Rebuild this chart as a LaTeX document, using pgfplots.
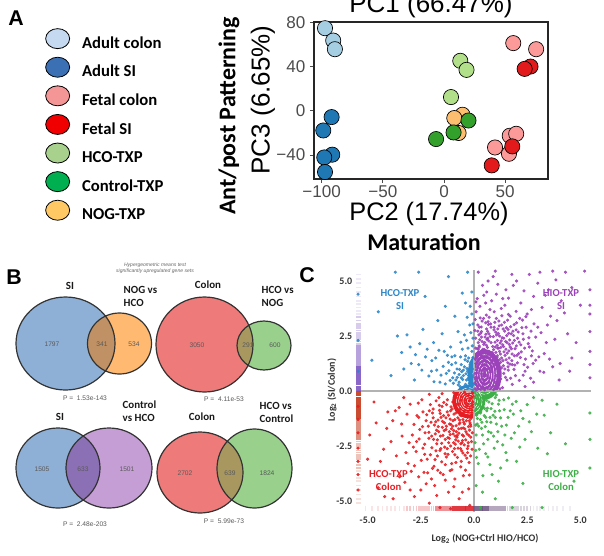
\documentclass[border=0pt]{standalone}
\usepackage{pgfplots}
\pgfplotsset{compat=1.18}
\usepackage{fontspec}
\setmainfont{Liberation Sans}
\newfontfamily\calib{Carlito}
\newfontfamily\ars{Liberation Sans}
% panel A scatter colours
\definecolor{acolon}{RGB}{166,206,227}
\definecolor{asi}{RGB}{31,120,180}
\definecolor{fcolon}{RGB}{251,154,153}
\definecolor{fsi}{RGB}{227,26,28}
\definecolor{hco}{RGB}{178,223,138}
\definecolor{ctrl}{RGB}{51,160,44}
\definecolor{nog}{RGB}{253,191,111}
% legend colours
\definecolor{lacolon}{RGB}{197,217,241}
\definecolor{lasi}{RGB}{60,112,180}
\definecolor{lfcolon}{RGB}{245,150,150}
\definecolor{lfsi}{RGB}{240,0,0}
\definecolor{lhco}{RGB}{169,209,142}
\definecolor{lctrl}{RGB}{0,176,80}
\definecolor{lnog}{RGB}{255,200,100}
% venn colours
\definecolor{vblue}{RGB}{143,176,214}
\definecolor{vorange}{RGB}{255,185,112}
\definecolor{vbo}{RGB}{192,145,100}
\definecolor{vred}{RGB}{238,122,122}
\definecolor{vgreen}{RGB}{152,208,140}
\definecolor{vrg}{RGB}{168,152,96}
\definecolor{vpurple}{RGB}{198,158,214}
\definecolor{vbp}{RGB}{140,112,182}
% panel C colours
\definecolor{cblue}{RGB}{45,135,200}
\definecolor{cpurple}{RGB}{155,65,185}
\definecolor{cred}{RGB}{230,30,35}
\definecolor{cgreen}{RGB}{60,175,70}
\definecolor{rugp}{RGB}{125,85,195}
\definecolor{rugr}{RGB}{195,55,25}
\definecolor{rugbr}{RGB}{220,35,45}
\definecolor{rugbp}{RGB}{105,80,125}
\pgfplotsset{
  legimg/.style={legend image code/.code={\draw[black, line width=0.6pt, fill=#1] (9pt,4pt) ellipse [x radius=9pt, y radius=7.5pt];}},
  ptA/.style={only marks, mark=*, mark size=5.7pt, mark options={draw=black, line width=0.5pt, fill=#1}},
  ptC/.style={only marks, mark=*, mark size=1.0pt, mark options={draw=#1, fill=#1, draw opacity=0.85, fill opacity=0.85}},
  rugL/.style 2 args={only marks, mark=-, mark size=2pt, mark options={line width=1.3pt, draw=#1, draw opacity=#2}},
  rugB/.style 2 args={only marks, mark=|, mark size=2pt, mark options={line width=1.3pt, draw=#1, draw opacity=#2}},
}
\begin{document}
\begin{tikzpicture}[x=0.75pt,y=-0.75pt]
\useasboundingbox (0,0) rectangle (604,556);
\clip (0,0) rectangle (604,556);

% ================= Panel A =================
\begin{axis}[at={(235.5pt,-16.5pt)}, anchor=north west, scale only axis, width=175.5pt, height=117.75pt,
  xmin=-106.3, xmax=85, ymin=-61.7, ymax=80.3,
  xtick={-100,-50,0,50}, xticklabels={−100,−50,0,50},
  ytick={-40,0,40,80}, yticklabels={−40,0,40,80},
  tick pos=left, tick align=outside, major tick length=3pt,
  axis line style={draw=black!85, line width=0.9pt},
  every tick/.style={black!70, line width=0.6pt},
  ticklabel style={font=\ars\fontsize{12.8}{12.8}\selectfont, text=black!70},
  xticklabel style={inner sep=0pt, text depth=0pt, yshift=-2pt},
  clip=false,
  legend style={at={(axis description cs:-1.1496,0.962)}, anchor=north west, draw=none, fill=none,
    font=\calib\bfseries\fontsize{12.5}{12.5}\selectfont, inner sep=0pt, row sep=3.9pt,
    nodes={inner sep=0pt, text height=9pt, text depth=2.5pt},
    /tikz/every odd column/.append style={column sep=9pt}},
  legend cell align=left]
\addplot[ptA=acolon, legimg=lacolon] coordinates {(-97.3,74.7) (-90.6,63.5) (-89.2,55.7)};
\addlegendentry{Adult colon}
\addplot[ptA=asi, legimg=lasi] coordinates {(-91.9,-5.7) (-98.7,-17.8) (-91.4,-39.7) (-97.9,-42.2) (-97.3,-55.4)};
\addlegendentry{Adult SI}
\addplot[ptA=fcolon, legimg=lfcolon] coordinates {(56.6,61.2) (75.3,55.7) (53.7,-22.6) (59.0,-20.8) (41.7,-33.2) (53.1,-38.9)};
\addlegendentry{Fetal colon}
\addplot[ptA=fsi, legimg=lfsi] coordinates {(70.7,40.0) (65.9,37.9) (55.8,-32.2) (39.0,-49.4)};
\addlegendentry{Fetal SI}
\addplot[ptA=hco, legimg=lhco] coordinates {(13.3,45.2) (18.4,37.0) (5.7,12.4)};
\addlegendentry{HCO-TXP}
\addplot[ptA=nog, forget plot] coordinates {(15.1,-3.6) (8.4,-6.6) (11.9,-20.1)};
\addplot[ptA=ctrl, legimg=lctrl] coordinates {(20.0,-8.8) (7.8,-19.6) (-6.5,-25.6)};
\addlegendentry{Control-TXP}
\addlegendimage{legimg=lnog}
\addlegendentry{NOG-TXP}
\end{axis}

% ================= Panel C =================
\begin{axis}[at={(267.75pt,-202.5pt)}, anchor=north west, scale only axis, width=175.5pt, height=181.5pt,
  xmin=-5.5, xmax=5.5, ymin=-5.5, ymax=5.5,
  axis line style={draw=none}, major tick length=0pt,
  xtick={-5,-2.5,0,2.5,5}, xticklabels={-5.0,-2.5,0.0,2.5,5.0},
  ytick={-5,-2.5,0,2.5,5}, yticklabels={-5.0,-2.5,0.0,2.5,5.0},
  ticklabel style={font=\calib\bfseries\fontsize{7.5}{7.5}\selectfont, text=black!80}]
% rugs left
\addplot[rugL={rugp}{0.9}] coordinates {(-5.43,0.05) (-5.43,0.13) (-5.43,0.21) (-5.43,0.29) (-5.43,0.37) (-5.43,0.45) (-5.43,0.53) (-5.43,0.61) (-5.43,0.69) (-5.43,0.77) (-5.43,0.85) (-5.43,0.93) (-5.43,1.01) (-5.43,1.09)};
\addplot[rugL={rugp}{0.55}] coordinates {(-5.43,1.17) (-5.43,1.25) (-5.43,1.33) (-5.43,1.41) (-5.43,1.49) (-5.43,1.57) (-5.43,1.65) (-5.43,1.73) (-5.43,1.81) (-5.43,1.89) (-5.43,1.97) (-5.43,2.05)};
\addplot[rugL={rugp}{0.3}] coordinates {(-5.43,2.15) (-5.43,2.25) (-5.43,2.35) (-5.43,2.45) (-5.43,2.55) (-5.43,2.65) (-5.43,2.75) (-5.43,2.85) (-5.43,2.95) (-5.43,3.05) (-5.43,3.2) (-5.43,3.35)};
\addplot[rugL={rugp}{0.13}] coordinates {(-5.43,3.5) (-5.43,3.65) (-5.43,3.8) (-5.43,3.95) (-5.43,4.1) (-5.43,4.3) (-5.43,4.5) (-5.43,4.7) (-5.43,4.9) (-5.43,5.1) (-5.43,5.3)};
\addplot[rugL={rugr}{0.9}] coordinates {(-5.43,-0.05) (-5.43,-0.13) (-5.43,-0.21) (-5.43,-0.29) (-5.43,-0.37) (-5.43,-0.45) (-5.43,-0.53) (-5.43,-0.61) (-5.43,-0.69) (-5.43,-0.77) (-5.43,-0.85) (-5.43,-0.93) (-5.43,-1.01) (-5.43,-1.09) (-5.43,-1.17) (-5.43,-1.25)};
\addplot[rugL={rugr}{0.55}] coordinates {(-5.43,-1.33) (-5.43,-1.41) (-5.43,-1.49) (-5.43,-1.57) (-5.43,-1.65) (-5.43,-1.73) (-5.43,-1.81) (-5.43,-1.89) (-5.43,-1.97) (-5.43,-2.05) (-5.43,-2.13) (-5.43,-2.21)};
\addplot[rugL={rugr}{0.3}] coordinates {(-5.43,-2.3) (-5.43,-2.4) (-5.43,-2.5) (-5.43,-2.6) (-5.43,-2.7) (-5.43,-2.8) (-5.43,-2.9) (-5.43,-3.0) (-5.43,-3.1) (-5.43,-3.2) (-5.43,-3.35) (-5.43,-3.5)};
\addplot[rugL={rugr}{0.15}] coordinates {(-5.43,-3.65) (-5.43,-3.8) (-5.43,-3.95) (-5.43,-4.1) (-5.43,-4.3) (-5.43,-4.5) (-5.43,-4.7) (-5.43,-4.9) (-5.43,-5.1)};
% rugs bottom
\addplot[rugB={rugbr}{0.9}] coordinates {(-0.04,-5.33) (-0.12,-5.33) (-0.2,-5.33) (-0.28,-5.33) (-0.36,-5.33) (-0.44,-5.33) (-0.52,-5.33) (-0.6,-5.33) (-0.68,-5.33) (-0.76,-5.33) (-0.84,-5.33) (-0.92,-5.33) (-1.0,-5.33)};
\addplot[rugB={rugbr}{0.5}] coordinates {(-1.08,-5.33) (-1.16,-5.33) (-1.24,-5.33) (-1.32,-5.33) (-1.4,-5.33) (-1.48,-5.33) (-1.56,-5.33) (-1.64,-5.33) (-1.72,-5.33) (-1.8,-5.33)};
\addplot[rugB={rugbr}{0.25}] coordinates {(-1.9,-5.33) (-2.0,-5.33) (-2.1,-5.33) (-2.2,-5.33) (-2.3,-5.33) (-2.4,-5.33) (-2.5,-5.33) (-2.6,-5.33) (-2.7,-5.33) (-2.85,-5.33) (-3.0,-5.33) (-3.15,-5.33)};
\addplot[rugB={rugbr}{0.12}] coordinates {(-3.3,-5.33) (-3.5,-5.33) (-3.7,-5.33) (-3.9,-5.33) (-4.1,-5.33) (-4.3,-5.33) (-4.5,-5.33) (-4.8,-5.33) (-5.1,-5.33)};
\addplot[rugB={rugbp}{0.85}] coordinates {(0.04,-5.33) (0.12,-5.33) (0.2,-5.33) (0.28,-5.33) (0.36,-5.33) (0.44,-5.33) (0.52,-5.33) (0.6,-5.33) (0.68,-5.33)};
\addplot[rugB={rugbp}{0.5}] coordinates {(0.76,-5.33) (0.84,-5.33) (0.92,-5.33) (1.0,-5.33) (1.08,-5.33) (1.16,-5.33) (1.24,-5.33) (1.32,-5.33) (1.4,-5.33) (1.48,-5.33)};
\addplot[rugB={rugbp}{0.25}] coordinates {(1.58,-5.33) (1.68,-5.33) (1.78,-5.33) (1.88,-5.33) (1.98,-5.33) (2.08,-5.33) (2.2,-5.33) (2.35,-5.33) (2.5,-5.33) (2.65,-5.33)};
\addplot[rugB={rugbp}{0.1}] coordinates {(2.8,-5.33) (2.95,-5.33) (3.1,-5.33) (3.3,-5.33) (3.5,-5.33) (3.7,-5.33) (3.9,-5.33) (4.2,-5.33) (4.5,-5.33)};
% dense cores
\begin{scope}
\clip (axis cs:0,0) rectangle (axis cs:5.5,5.5);
\fill[cpurple] (axis cs:0.5,0.75) ellipse [x radius=0.8, y radius=1.15];
\fill[cpurple] (axis cs:-0.22,-0.45) ellipse [x radius=0.75, y radius=0.75];
\end{scope}
\begin{scope}
\clip (axis cs:-5.5,0) rectangle (axis cs:0,5.5);
\fill[cblue] (axis cs:0.5,0.75) ellipse [x radius=0.8, y radius=1.15];
\fill[cblue] (axis cs:-0.22,-0.45) ellipse [x radius=0.75, y radius=0.75];
\end{scope}
\begin{scope}
\clip (axis cs:-5.5,-5.5) rectangle (axis cs:0,0);
\fill[cred] (axis cs:0.5,0.75) ellipse [x radius=0.8, y radius=1.15];
\fill[cred] (axis cs:-0.22,-0.45) ellipse [x radius=0.8, y radius=0.8];
\end{scope}
\begin{scope}
\clip (axis cs:0,-5.5) rectangle (axis cs:5.5,0);
\fill[cgreen] (axis cs:0.5,0.75) ellipse [x radius=0.8, y radius=1.15];
\fill[cgreen] (axis cs:-0.22,-0.45) ellipse [x radius=0.75, y radius=0.75];
\end{scope}
% points
\addplot[ptC=cpurple] coordinates {(0.1,0.3) (0.2,0.6) (0.15,1.1) (0.3,1.5) (0.25,2.0) (0.4,0.2) (0.5,0.9) (0.6,1.3) (0.7,1.8) (0.8,2.2) (0.9,0.5) (1.0,1.0) (1.1,1.6) (1.2,2.5) (1.3,3.0) (1.4,0.8) (1.5,1.9) (1.6,2.8) (1.7,3.4) (1.8,1.2) (1.9,2.3) (2.0,3.1) (2.1,1.7) (2.2,4.0) (2.3,2.6) (2.4,0.9) (2.5,3.5) (2.6,2.0) (2.8,4.3) (2.9,1.4) (3.0,2.9) (3.2,3.8) (3.4,2.2) (3.5,4.6) (3.7,1.1) (3.9,3.2) (4.1,4.1) (4.4,2.6) (0.05,0.8) (0.12,1.7) (0.08,2.4) (0.18,3.0) (0.1,3.6) (0.35,2.7) (0.45,3.3) (0.55,4.0) (0.65,2.4) (0.75,3.7) (0.85,1.1) (0.95,2.9) (1.05,4.4) (1.15,0.3) (1.25,1.3) (1.35,2.1) (1.45,3.9) (1.55,0.5) (1.65,1.5) (1.75,2.6) (1.85,4.8) (1.95,0.7) (2.05,2.4) (2.15,3.3) (2.35,1.2) (2.45,2.9) (2.7,1.6) (0.3,0.5) (0.6,0.7) (0.4,1.2) (0.9,1.4) (0.7,0.4) (1.0,2.0) (0.2,1.9) (0.5,2.2) (0.8,2.9) (1.2,1.8) (1.1,2.3) (1.3,1.5) (1.4,2.4) (0.35,1.6) (0.65,1.0) (0.45,0.4) (0.75,1.5) (1.6,1.1) (1.7,2.0) (1.9,1.6) (2.2,2.1) (0.25,2.9) (0.55,3.1) (1.05,3.3) (0.15,4.2) (0.4,4.8) (0.9,5.2) (1.5,4.6) (2.0,5.0) (2.6,5.3) (0.2,5.4) (3.1,5.4) (4.3,5.4) (5.45,1.8) (5.45,3.5) (5.45,0.6) (5.45,4.6) (3.3,1.7) (3.6,3.4) (4.0,0.5) (2.8,0.4) (3.1,0.9) (4.6,1.5) (1.8,0.3) (2.4,0.2) (0.95,3.6) (1.35,4.2) (0.6,4.5) (3.0,4.9) (0.05,0.1) (0.1,0.45) (0.22,0.25) (0.3,0.95) (0.15,1.35) (0.42,1.9) (0.62,1.6) (0.85,1.75) (1.05,0.7) (1.15,1.25) (0.95,0.2) (1.25,0.55) (0.5,0.05) (0.7,2.6) (0.35,2.45) (1.45,1.0) (1.55,2.2) (0.2,2.2)};
\addplot[ptC=cpurple] coordinates {(0.03,0.35) (0.07,0.62) (0.11,0.95) (0.14,1.22) (0.17,1.48) (0.21,1.77) (0.24,2.05) (0.27,2.33) (0.31,2.62) (0.34,2.91) (0.38,3.18) (0.41,0.12) (0.44,0.68) (0.48,1.05) (0.51,1.42) (0.54,1.73) (0.58,2.08) (0.61,2.35) (0.64,2.71) (0.68,3.02) (0.71,3.35) (0.74,0.22) (0.78,0.85) (0.81,1.28) (0.84,1.62) (0.88,2.02) (0.91,2.47) (0.94,2.78) (0.98,3.12) (1.01,0.38) (1.04,1.18) (1.08,1.52) (1.11,1.95) (1.14,2.62) (1.18,2.96) (1.21,0.88) (1.24,1.68) (1.28,2.28) (1.31,3.42) (1.34,0.15) (1.38,1.15) (1.41,1.78) (1.44,2.72) (1.48,0.62) (1.51,1.42) (1.54,2.52) (1.58,3.22) (1.61,0.95) (1.64,1.82) (1.68,2.32) (1.72,0.58) (1.78,1.38) (1.83,2.72) (1.88,0.98) (1.93,1.92) (1.98,3.62) (2.04,1.28) (2.08,2.68) (2.13,0.48) (2.18,1.52) (2.25,2.88) (2.31,0.72) (2.38,1.95) (2.44,3.38) (2.52,1.08) (2.58,2.42) (2.66,0.58) (2.74,1.82) (2.82,3.05) (2.9,2.45) (3.05,1.55) (3.15,2.65) (3.28,0.85) (3.45,3.0) (3.55,1.45) (3.8,2.35) (4.05,1.25) (4.25,3.55) (4.5,0.9) (4.8,2.2) (5.0,3.9) (0.12,0.05) (0.32,0.08) (0.62,0.12) (0.92,0.06) (1.22,0.1) (0.05,1.45) (0.08,1.95) (0.04,2.75) (0.06,3.25) (0.09,4.05) (0.28,3.85) (0.46,4.35) (0.66,5.0) (0.83,4.1) (1.12,4.85) (1.28,3.75) (1.62,4.22) (1.78,5.3) (2.35,4.55) (2.7,3.7) (3.35,4.35) (3.85,5.05) (4.6,4.7) (5.2,5.45) (3.7,5.45) (1.0,5.45) (5.45,2.7) (5.45,1.2) (5.45,3.9)};
\addplot[ptC=cpurple] coordinates {(0.06,0.55) (0.13,0.82) (0.19,1.05) (0.26,1.28) (0.33,1.62) (0.39,1.85) (0.46,2.12) (0.52,2.45) (0.59,2.82) (0.66,3.15) (0.72,0.58) (0.79,1.05) (0.86,1.38) (0.92,1.88) (0.99,2.22) (1.06,2.55) (1.12,2.82) (1.19,1.42) (1.26,1.98) (1.32,2.42) (1.39,2.02) (1.46,1.62) (1.52,2.88) (1.59,1.28) (1.66,2.12) (1.72,2.92) (1.79,1.68) (1.86,2.52) (1.92,1.18) (1.99,2.05) (0.09,1.25) (0.16,1.92) (0.23,2.55) (0.29,3.32) (0.36,0.78) (0.43,1.48) (0.49,1.88) (0.56,2.58) (0.63,1.98) (0.69,2.28) (0.76,2.48) (0.83,0.95) (0.89,1.62) (0.96,1.22) (1.03,1.75) (1.09,2.08) (1.16,1.95) (1.23,2.18) (1.29,1.05) (1.36,1.38) (1.43,3.12) (1.49,2.25) (1.56,1.72) (1.63,2.62) (1.69,1.22) (1.76,1.92) (1.82,2.18) (1.89,3.02) (2.02,1.62) (2.12,2.22) (2.22,1.78) (2.32,2.35) (2.42,1.45) (2.55,2.15) (2.68,2.72) (2.78,1.25) (0.18,2.72) (0.38,2.25) (0.58,3.45) (0.78,3.05) (1.02,2.68) (1.17,3.18) (1.37,2.82) (1.62,3.48) (1.98,2.78) (2.28,3.22)};
\addplot[ptC=cred] coordinates {(-0.1,-0.3) (-0.2,-0.8) (-0.3,-1.2) (-0.15,-1.6) (-0.4,-0.4) (-0.5,-1.0) (-0.6,-1.7) (-0.7,-0.6) (-0.8,-2.1) (-0.9,-1.3) (-1.0,-0.5) (-1.1,-2.5) (-1.2,-1.1) (-1.3,-3.0) (-1.4,-1.8) (-1.5,-0.7) (-1.6,-2.7) (-1.7,-3.6) (-1.8,-1.4) (-1.9,-2.2) (-2.0,-4.0) (-2.1,-0.9) (-2.2,-3.1) (-2.3,-1.9) (-2.4,-2.6) (-2.5,-4.5) (-2.6,-1.2) (-2.8,-3.4) (-2.9,-2.0) (-3.0,-0.6) (-3.2,-2.8) (-3.4,-1.5) (-3.5,-3.9) (-3.7,-0.9) (-3.9,-2.3) (-4.1,-1.7) (-4.4,-3.2) (-4.7,-0.5) (-0.05,-0.5) (-0.1,-1.0) (-0.08,-1.9) (-0.12,-2.3) (-0.25,-0.2) (-0.35,-0.7) (-0.45,-1.5) (-0.55,-2.0) (-0.65,-1.1) (-0.75,-2.6) (-0.85,-0.3) (-0.95,-1.8) (-1.05,-3.3) (-1.15,-1.5) (-1.25,-0.4) (-1.35,-2.2) (-1.45,-3.8) (-1.55,-1.2) (-1.65,-0.3) (-1.75,-2.4) (-1.85,-4.3) (-1.95,-1.0) (-2.05,-2.9) (-2.15,-1.6) (-2.35,-3.7) (-2.45,-0.4) (-2.7,-2.3) (-3.1,-3.3) (-3.3,-0.3) (-0.3,-2.8) (-0.6,-3.2) (-0.9,-4.0) (-0.4,-3.6) (-1.2,-4.6) (-0.7,-4.9) (-0.2,-5.2) (-1.6,-5.3) (-2.8,-4.8) (-5.45,-1.3) (-5.45,-2.6) (-5.45,-0.7) (-5.45,-3.8) (-4.9,-2.0) (-4.5,-4.4) (-3.8,-4.9) (-0.05,-0.1) (-0.18,-0.35) (-0.3,-0.6) (-0.45,-0.9) (-0.6,-0.25) (-0.22,-1.35) (-0.38,-1.85) (-0.52,-1.3) (-0.7,-1.5) (-0.85,-1.0) (-1.0,-1.6) (-0.15,-2.1) (-0.62,-2.4) (-1.1,-0.9) (-1.3,-1.6) (-0.9,-2.9) (-0.28,-2.5) (-0.78,-0.15)};
\addplot[ptC=cred] coordinates {(-0.03,-0.25) (-0.07,-0.62) (-0.1,-0.88) (-0.14,-1.25) (-0.17,-1.52) (-0.21,-1.78) (-0.24,-2.02) (-0.27,-2.35) (-0.31,-2.62) (-0.34,-3.05) (-0.38,-0.15) (-0.41,-0.55) (-0.44,-1.12) (-0.48,-1.42) (-0.51,-1.68) (-0.54,-2.25) (-0.58,-2.72) (-0.61,-0.42) (-0.64,-0.82) (-0.68,-1.32) (-0.71,-1.92) (-0.74,-2.28) (-0.78,-3.02) (-0.81,-0.62) (-0.84,-1.58) (-0.88,-2.42) (-0.91,-0.22) (-0.94,-1.05) (-0.98,-1.95) (-1.01,-2.75) (-1.04,-3.58) (-1.08,-0.72) (-1.12,-1.28) (-1.16,-2.15) (-1.22,-2.88) (-1.26,-0.95) (-1.32,-1.75) (-1.38,-2.55) (-1.42,-0.52) (-1.48,-1.38) (-1.52,-3.22) (-1.58,-2.05) (-1.62,-0.88) (-1.68,-1.62) (-1.72,-2.95) (-1.78,-0.45) (-1.82,-1.95) (-1.88,-3.42) (-1.92,-1.22) (-1.98,-2.58) (-2.05,-0.62) (-2.12,-1.88) (-2.18,-3.72) (-2.25,-1.35) (-2.32,-2.42) (-2.4,-0.95) (-2.48,-3.15) (-2.55,-1.75) (-2.62,-0.55) (-2.72,-2.75) (-2.82,-1.52) (-2.95,-3.65) (-3.05,-2.35) (-3.15,-1.05) (-3.25,-4.15) (-3.38,-2.05) (-3.52,-0.75) (-3.65,-2.95) (-3.82,-1.35) (-4.05,-0.95) (-4.25,-2.65) (-4.6,-1.45) (-5.0,-3.1) (-0.5,-3.85) (-0.95,-4.35) (-1.35,-4.05) (-0.25,-4.45) (-1.75,-4.75) (-0.55,-4.6) (-2.1,-5.1) (-1.1,-5.35) (-2.6,-3.9) (-3.0,-4.5) (-4.2,-4.8) (-5.45,-1.9) (-5.45,-3.2) (-5.45,-4.5) (-0.08,-0.05) (-0.45,-0.05) (-0.95,-0.08) (-1.5,-0.12) (-2.1,-0.15)};
\addplot[ptC=cred] coordinates {(-0.06,-0.72) (-0.13,-1.12) (-0.19,-1.45) (-0.26,-1.62) (-0.33,-1.95) (-0.39,-2.22) (-0.46,-2.45) (-0.52,-2.82) (-0.59,-1.12) (-0.66,-1.45) (-0.72,-1.72) (-0.79,-2.02) (-0.86,-2.22) (-0.92,-2.62) (-0.99,-1.35) (-1.06,-1.72) (-1.12,-1.98) (-1.19,-2.35) (-1.26,-2.62) (-1.32,-1.22) (-1.39,-1.45) (-1.46,-2.02) (-1.52,-2.38) (-1.59,-1.02) (-1.66,-1.85) (-1.72,-2.22) (-1.79,-2.72) (-1.86,-1.55) (-1.92,-0.82) (-1.99,-2.05) (-0.09,-2.65) (-0.16,-2.95) (-0.23,-3.25) (-0.29,-0.95) (-0.36,-1.35) (-0.43,-1.72) (-0.49,-2.05) (-0.56,-2.35) (-0.63,-2.62) (-0.69,-0.92) (-0.76,-1.22) (-0.83,-1.85) (-0.89,-2.05) (-0.96,-2.35) (-1.03,-0.82) (-1.09,-1.52) (-1.16,-1.85) (-1.23,-2.12) (-1.29,-0.62) (-1.36,-2.85) (-1.43,-1.12) (-1.49,-1.65) (-1.56,-2.62) (-1.63,-0.65) (-1.69,-1.32) (-1.76,-1.78) (-1.83,-3.12) (-2.02,-1.42) (-2.12,-2.15) (-2.22,-1.08) (-2.32,-2.88) (-2.42,-1.62) (-2.58,-2.18) (-2.68,-1.12) (-2.85,-2.55) (-0.42,-2.92) (-0.62,-3.45) (-0.85,-3.25) (-1.12,-3.62) (-1.35,-3.35) (-1.58,-3.72) (-0.22,-3.82) (-1.95,-3.52) (-2.25,-4.22)};
\addplot[ptC=cblue] coordinates {(-0.1,0.2) (-0.2,0.5) (-0.3,0.9) (-0.15,1.3) (-0.4,0.3) (-0.5,0.7) (-0.6,1.2) (-0.7,0.4) (-0.8,1.0) (-0.9,1.6) (-1.0,0.6) (-1.1,2.0) (-1.2,1.3) (-1.3,0.8) (-1.4,1.8) (-1.5,2.6) (-1.6,0.4) (-1.8,1.5) (-1.9,2.2) (-2.0,0.9) (-2.2,1.9) (-2.4,2.8) (-2.6,1.2) (-2.8,0.5) (-3.0,2.0) (-3.3,1.0) (-3.6,2.5) (-3.9,0.7) (-0.05,0.7) (-0.1,1.8) (-0.05,2.4) (-0.2,3.0) (-0.1,3.5) (-0.35,2.3) (-0.55,1.9) (-0.25,1.5) (-0.45,1.1) (-0.65,0.2) (-0.75,2.7) (-0.85,0.5) (-1.05,1.2) (-0.3,0.15) (-0.6,0.6) (-0.2,0.9) (-0.4,1.6) (-1.7,3.2) (-0.9,3.4) (-0.4,4.0) (-0.1,4.5) (-2.3,4.3) (-1.2,5.2) (-3.7,5.4) (-4.5,3.6) (-4.8,1.4) (-5.45,2.3) (-5.45,0.9) (-5.45,4.4) (-0.3,5.4) (-2.6,5.4) (-0.05,0.05) (-0.12,0.4) (-0.25,0.7) (-0.08,1.0) (-0.35,0.5) (-0.18,1.2) (-0.5,0.95) (-0.7,0.75) (-0.3,1.35)};
\addplot[ptC=cblue] coordinates {(-0.03,0.3) (-0.08,0.62) (-0.12,0.88) (-0.16,1.12) (-0.22,0.35) (-0.27,0.58) (-0.33,1.02) (-0.38,0.78) (-0.42,1.42) (-0.47,0.18) (-0.53,0.52) (-0.58,0.88) (-0.63,1.55) (-0.68,0.98) (-0.74,0.28) (-0.79,0.62) (-0.86,1.28) (-0.92,0.82) (-0.97,0.35) (-1.04,1.55) (-1.12,0.48) (-1.18,0.92) (-1.25,1.62) (-1.35,0.32) (-1.45,1.12) (-1.55,0.72) (-1.65,1.85) (-1.75,0.95) (-1.88,0.42) (-1.98,1.38) (-2.12,0.68) (-2.28,1.55) (-2.45,0.95) (-2.55,2.15) (-2.75,1.65) (-2.95,1.25) (-3.15,2.55) (-3.4,1.75) (-0.05,1.52) (-0.08,2.05) (-0.15,2.65) (-0.28,1.95) (-0.45,2.55) (-0.62,2.22) (-0.32,3.35) (-0.05,3.05) (-0.18,3.85) (-0.55,4.45) (-1.35,3.85)};
\addplot[ptC=cgreen] coordinates {(0.1,-0.2) (0.2,-0.6) (0.3,-1.0) (0.15,-1.5) (0.4,-0.3) (0.5,-0.8) (0.6,-1.4) (0.7,-0.5) (0.8,-1.9) (0.9,-1.1) (1.0,-0.3) (1.1,-2.3) (1.2,-0.9) (1.3,-1.6) (1.4,-0.4) (1.5,-2.8) (1.6,-1.2) (1.8,-0.6) (1.9,-1.9) (2.0,-3.2) (2.2,-0.9) (2.4,-2.2) (2.6,-1.4) (2.8,-0.3) (3.0,-2.6) (3.3,-1.1) (3.6,-1.9) (3.9,-0.6) (4.3,-2.4) (0.05,-0.9) (0.1,-2.0) (0.08,-2.7) (0.2,-3.3) (0.35,-1.7) (0.45,-2.4) (0.55,-0.2) (0.65,-3.0) (0.75,-1.2) (0.85,-3.8) (0.95,-2.6) (1.05,-1.5) (1.15,-0.6) (1.25,-3.5) (1.45,-2.0) (1.7,-0.9) (2.1,-1.6) (2.3,-4.2) (0.4,-4.6) (1.0,-4.9) (0.3,-5.3) (1.8,-5.3) (3.2,-5.3) (5.45,-1.0) (5.45,-2.2) (5.45,-3.5) (4.7,-4.1) (0.25,-0.4) (0.6,-0.9) (0.3,-1.3) (0.05,-0.05) (0.15,-0.35) (0.3,-0.7) (0.12,-1.1) (0.45,-0.5) (0.22,-1.6) (0.55,-1.2) (0.8,-0.8) (0.4,-2.0) (0.65,-2.2) (1.0,-1.2)};
\addplot[ptC=cgreen] coordinates {(0.03,-0.32) (0.07,-0.58) (0.11,-0.82) (0.16,-1.25) (0.21,-0.18) (0.26,-0.52) (0.32,-0.95) (0.37,-1.42) (0.42,-0.72) (0.48,-1.12) (0.53,-1.62) (0.58,-0.42) (0.63,-0.78) (0.68,-1.85) (0.74,-0.25) (0.79,-1.42) (0.85,-0.58) (0.92,-2.05) (0.98,-0.92) (1.05,-0.18) (1.12,-1.85) (1.18,-0.42) (1.25,-1.22) (1.35,-2.45) (1.42,-0.85) (1.52,-1.55) (1.62,-0.32) (1.75,-2.15) (1.85,-1.05) (1.98,-0.48) (2.15,-2.55) (2.3,-1.25) (2.5,-0.62) (2.7,-1.85) (2.95,-1.05) (3.2,-0.42) (3.45,-2.85) (0.08,-1.55) (0.05,-2.35) (0.12,-3.02) (0.25,-2.65) (0.55,-2.85) (0.75,-3.35) (0.42,-3.85) (1.55,-3.15) (1.15,-4.1) (0.1,-4.3)};
% white density contours
\draw[white, line width=0.4pt] (axis cs:0.5,0.75) ellipse [x radius=0.11, y radius=0.18]
  (axis cs:0.5,0.75) ellipse [x radius=0.22, y radius=0.36]
  (axis cs:0.5,0.75) ellipse [x radius=0.33, y radius=0.54]
  (axis cs:0.5,0.75) ellipse [x radius=0.44, y radius=0.72]
  (axis cs:0.5,0.75) ellipse [x radius=0.55, y radius=0.9];
\draw[white, line width=0.4pt] (axis cs:-0.22,-0.45) ellipse [x radius=0.1, y radius=0.1]
  (axis cs:-0.22,-0.45) ellipse [x radius=0.2, y radius=0.2]
  (axis cs:-0.22,-0.45) ellipse [x radius=0.3, y radius=0.3]
  (axis cs:-0.22,-0.45) ellipse [x radius=0.4, y radius=0.4]
  (axis cs:-0.22,-0.45) ellipse [x radius=0.5, y radius=0.5]
  (axis cs:-0.22,-0.45) ellipse [x radius=0.6, y radius=0.6];
% zero lines
\addplot[gray!60, line width=0.8pt] coordinates {(0,-5.5) (0,5.5)};
\addplot[gray!60, line width=0.8pt] coordinates {(-5.5,0) (5.5,0)};
\end{axis}

% ================= Canvas (panel letters, labels, Venn diagrams) =================
\begin{axis}[at={(0pt,0pt)}, anchor=north west, scale only axis, width=453pt, height=417pt,
  xmin=0, xmax=604, ymin=0, ymax=556, y dir=reverse, hide axis, clip=false]
% panel letters
\node[font=\ars\bfseries\fontsize{16}{16}\selectfont] at (axis cs:16,18) {A};
\node[font=\ars\bfseries\fontsize{16}{16}\selectfont] at (axis cs:14,277) {B};
\node[font=\ars\bfseries\fontsize{16}{16}\selectfont] at (axis cs:307,275) {C};
% panel A labels
\node[anchor=base, font=\ars\fontsize{19.5}{19.5}\selectfont] at (axis cs:431,12) {PC1 (66.47\%)};
\node[inner sep=0pt, font=\ars\fontsize{19}{19}\selectfont] at (axis cs:429,214) {PC2 (17.74\%)};
\node[rotate=90, font=\ars\fontsize{19.5}{19.5}\selectfont] at (axis cs:263,100) {PC3 (6.65\%)};
\node[rotate=90, font=\calib\bfseries\fontsize{18}{18}\selectfont] at (axis cs:229,116) {Ant/post Patterning};
\node[font=\calib\bfseries\fontsize{18}{18}\selectfont] at (axis cs:424,242) {Maturation};
% panel B title
\node[font=\ars\itshape\fontsize{3.8}{4.5}\selectfont, text=black!60, align=center] at (axis cs:155,268.5) {Hypergeometric means test\\significantly upregulated gene sets};
% Venn 1
\fill[vblue] (axis cs:65.5,343.5) ellipse [x radius=49.5, y radius=46.5];
\fill[vorange] (axis cs:119.5,343.5) ellipse [x radius=32, y radius=30.5];
\begin{scope}
\clip (axis cs:65.5,343.5) ellipse [x radius=49.5, y radius=46.5];
\fill[vbo] (axis cs:119.5,343.5) ellipse [x radius=32, y radius=30.5];
\end{scope}
\draw[black!80, line width=0.9pt] (axis cs:65.5,343.5) ellipse [x radius=49.5, y radius=46.5]
  (axis cs:119.5,343.5) ellipse [x radius=32, y radius=30.5];
% Venn 2
\fill[vred] (axis cs:204.5,344.5) ellipse [x radius=48.5, y radius=47.5];
\fill[vgreen] (axis cs:264,345.5) ellipse [x radius=27, y radius=24.5];
\begin{scope}
\clip (axis cs:204.5,344.5) ellipse [x radius=48.5, y radius=47.5];
\fill[vrg] (axis cs:264,345.5) ellipse [x radius=27, y radius=24.5];
\end{scope}
\draw[black!80, line width=0.9pt] (axis cs:204.5,344.5) ellipse [x radius=48.5, y radius=47.5]
  (axis cs:264,345.5) ellipse [x radius=27, y radius=24.5];
% Venn 3
\fill[vblue] (axis cs:58,468) ellipse [x radius=42, y radius=40];
\fill[vpurple] (axis cs:109,468) ellipse [x radius=43, y radius=40];
\begin{scope}
\clip (axis cs:58,468) ellipse [x radius=42, y radius=40];
\fill[vbp] (axis cs:109,468) ellipse [x radius=43, y radius=40];
\end{scope}
\draw[black!80, line width=0.9pt] (axis cs:58,468) ellipse [x radius=42, y radius=40]
  (axis cs:109,468) ellipse [x radius=43, y radius=40];
% Venn 4
\fill[vred] (axis cs:200,472.5) ellipse [x radius=43, y radius=40.5];
\fill[vgreen] (axis cs:254.5,468.5) ellipse [x radius=37.5, y radius=39.5];
\begin{scope}
\clip (axis cs:200,472.5) ellipse [x radius=43, y radius=40.5];
\fill[vrg] (axis cs:254.5,468.5) ellipse [x radius=37.5, y radius=39.5];
\end{scope}
\draw[black!80, line width=0.9pt] (axis cs:200,472.5) ellipse [x radius=43, y radius=40.5]
  (axis cs:254.5,468.5) ellipse [x radius=37.5, y radius=39.5];
% Venn numbers
\begin{scope}[every node/.style={font=\ars\fontsize{5}{5}\selectfont, text=black!65}]
\node at (axis cs:52,344) {1797};
\node at (axis cs:102,344) {341};
\node at (axis cs:134,344) {534};
\node at (axis cs:197,345) {3050};
\node at (axis cs:248,345) {291};
\node at (axis cs:275,345) {600};
\node at (axis cs:42,469) {1505};
\node at (axis cs:83,469) {633};
\node at (axis cs:127,469) {1501};
\node at (axis cs:185,473) {2702};
\node at (axis cs:230,473) {639};
\node at (axis cs:267,473) {1824};
\node at (axis cs:85,398) {P =\ \ 1.53e-143};
\node at (axis cs:224,399) {P =\ \ 4.11e-53};
\node at (axis cs:85,524) {P =\ \ 2.48e-203};
\node at (axis cs:224,521) {P =\ \ 5.99e-73};
\end{scope}
% Venn set labels
\begin{scope}[every node/.style={font=\calib\bfseries\fontsize{8.2}{9.8}\selectfont, text=black!90}]
\node at (axis cs:70,286) {SI};
\node at (axis cs:208,285) {Colon};
\node at (axis cs:60,417) {SI};
\node at (axis cs:202,417) {Colon};
\node[anchor=west, align=left] at (axis cs:119,296.5) {NOG vs\\HCO};
\node[anchor=west, align=left] at (axis cs:257,296.5) {HCO vs\\NOG};
\node[anchor=west, align=left] at (axis cs:118,411.5) {Control\\vs HCO};
\node[anchor=west, align=left] at (axis cs:255,412) {HCO vs\\Control};
\end{scope}
% panel C labels
\begin{scope}[every node/.style={font=\calib\bfseries\fontsize{8}{9.8}\selectfont, align=center}]
\node[text=cblue] at (axis cs:400,299.5) {HCO-TXP\\SI};
\node[text=cpurple] at (axis cs:561,299.5) {HIO-TXP\\SI};
\node[text=cred] at (axis cs:388.5,480.5) {HCO-TXP\\Colon};
\node[text=cgreen] at (axis cs:561,480.5) {HIO-TXP\\Colon};
\end{scope}
\node[rotate=90, font=\calib\bfseries\fontsize{7.5}{7.5}\selectfont, text=black!80] at (axis cs:332,390) {Log\textsubscript{2} (SI/Colon)};
\node[font=\calib\bfseries\fontsize{7.5}{7.5}\selectfont, text=black!80] at (axis cs:485,539) {Log\textsubscript{2} (NOG+Ctrl HIO/HCO)};
\end{axis}
\end{tikzpicture}
\end{document}
